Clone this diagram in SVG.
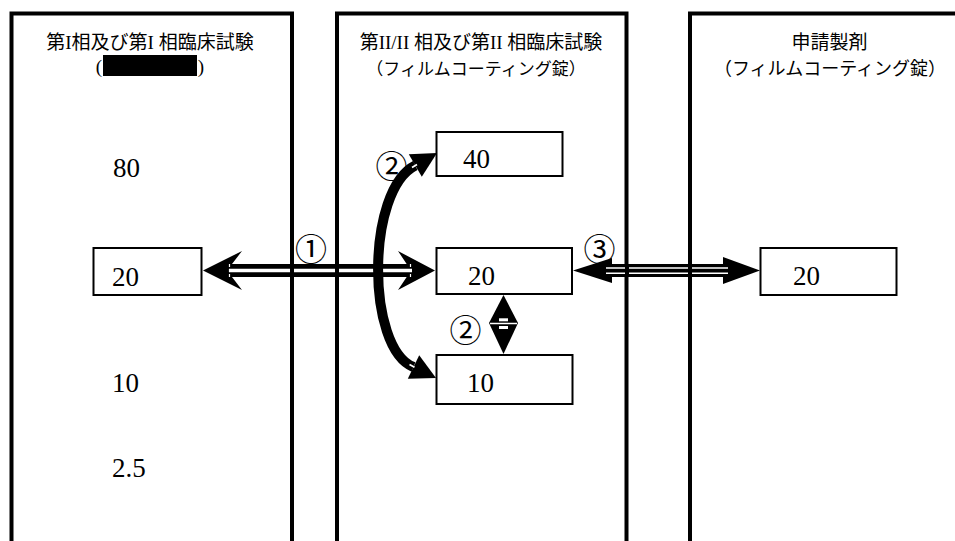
<svg xmlns="http://www.w3.org/2000/svg" width="955" height="541" viewBox="0 0 955 541">
<style>
.panel{fill:none;stroke:#000;stroke-width:4}
.box{fill:#fff;stroke:#000;stroke-width:2}
.title{font-family:"Liberation Serif","Noto Sans CJK JP",serif;font-size:19px;fill:#000;text-anchor:middle}
.sub{font-family:"Liberation Serif","Noto Sans CJK JP",serif;font-size:17px;fill:#000;text-anchor:middle}
.num{font-family:"Liberation Serif",serif;font-size:27px;fill:#000}
.circ{font-family:"Noto Sans CJK JP",sans-serif;font-size:32px;fill:#000;text-anchor:middle}
.blk{fill:#000}
.wl{stroke:#fff;fill:none}
.arc{stroke:#000;stroke-width:10;fill:none}
</style>
<rect width="955" height="541" fill="#fff"/>

<g id="panel-phase1">
  <path class="panel" d="M11.5,545 V13.5 H292 V545"/>
  <text class="title" x="150" y="49">第I相及び第I 相臨床試験</text>
  <text class="title" x="99" y="73">(</text>
  <rect class="blk" x="103" y="55" width="94" height="21"/>
  <text class="title" x="201" y="73">)</text>
  <text class="num" x="113" y="177">80</text>
  <text class="num" x="112" y="392">10</text>
  <text class="num" x="112" y="477">2.5</text>
</g>
<g id="panel-phase2">
  <path class="panel" d="M337,545 V13.5 H626.5 V545"/>
  <text class="title" x="481" y="49">第II/II 相及び第II 相臨床試験</text>
  <text class="sub" x="476" y="75">（フィルムコーティング錠）</text>
</g>
<g id="panel-final">
  <path class="panel" d="M690,545 V13.5 H960"/>
  <text class="title" x="829.5" y="49">申請製剤</text>
  <text class="sub" x="830" y="75" style="font-size:18px">（フィルムコーティング錠）</text>
</g>

<g id="box-p1-20">
  <rect class="box" x="93.5" y="248" width="108" height="47"/>
  <text class="num" x="112" y="286">20</text>
</g>
<g id="box-p2-40">
  <rect class="box" x="436.5" y="132" width="126" height="44"/>
  <text class="num" x="463" y="168">40</text>
</g>
<g id="box-p2-20">
  <rect class="box" x="436.5" y="248" width="135.5" height="46"/>
  <text class="num" x="468" y="285">20</text>
</g>
<g id="box-p2-10">
  <rect class="box" x="436.5" y="355" width="136" height="49"/>
  <text class="num" x="467" y="392">10</text>
</g>
<g id="box-final-20">
  <rect class="box" x="760.5" y="248" width="136" height="47"/>
  <text class="num" x="793" y="285">20</text>
</g>

<g id="connectors">
  <!-- (1) double-line arrow -->
  <polygon class="blk" points="203,270.5 242,251 227,270.5 242,290"/>
  <polygon class="blk" points="435,270.5 398,251 411,270.5 398,290"/>
  <rect class="blk" x="226" y="264" width="186" height="13"/>
  <path class="wl" stroke-width="3.5" d="M229,270.5 H290 M294,270.5 H335 M339,270.5 H412"/>
  <path class="wl" stroke-width="1.2" stroke-dasharray="3 2" d="M229.5,264 V277 M410.5,264 V277"/>
  <text class="circ" x="311" y="261">①</text>

  <!-- (3) triple-line arrow -->
  <polygon class="blk" points="573,270.5 612,258 612,283"/>
  <polygon class="blk" points="760,270.5 723,257 723,284"/>
  <rect class="blk" x="611" y="264" width="113" height="13"/>
  <path class="wl" stroke-width="1.6" d="M606,268 H625 M629,268 H688 M692,268 H728 M606,273.2 H625 M629,273.2 H688 M692,273.2 H728"/>
  <text class="circ" x="599.5" y="260.5">③</text>

  <!-- (2) curved double arrow -->
  <path class="arc" d="M415.3,165.5 C366,190 366,348 413.5,367"/>
  <polygon class="blk" points="437,153 421.8,176.8 408.8,154.2"/>
  <polygon class="blk" points="436,378 407.8,378.7 419.2,355.3"/>
  <path class="wl" stroke-width="1.8" d="M417,164.5 L412,167.5 M409.5,364.5 L414.5,367.3"/>
  <text class="circ" x="391.5" y="177.5">②</text>

  <!-- (2) vertical double arrow -->
  <polygon class="blk" points="503.5,295 518,323 503.5,354 489,323"/>
  <path class="wl" stroke-width="1.5" d="M490,323.5 H517"/>
  <rect x="499" y="318.3" width="9" height="3" fill="#fff"/>
  <rect x="499" y="326" width="9" height="3" fill="#fff"/>
  <text class="circ" x="465.5" y="342">②</text>
</g>
</svg>
